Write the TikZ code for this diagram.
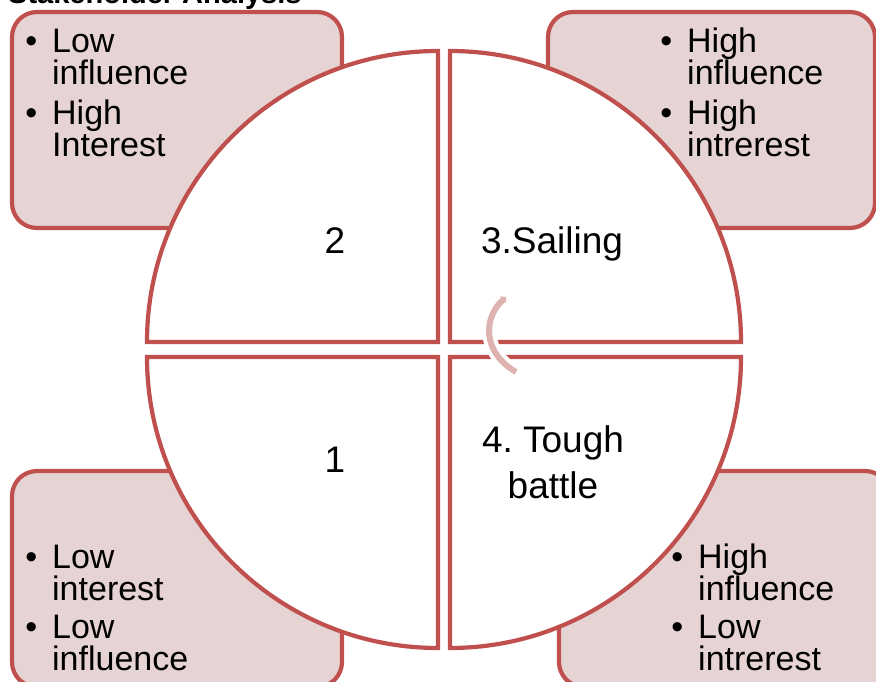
\documentclass[tikz,border=0pt]{standalone}
\usepackage{fontspec}
\setmainfont{Liberation Sans}
\usetikzlibrary{arrows.meta}
\definecolor{rline}{RGB}{192,80,77}
\definecolor{rfill}{RGB}{230,212,212}
\definecolor{rarc}{RGB}{222,178,177}
\lineskiplimit=-20pt
\frenchspacing
\newcommand{\bul}{\llap{\textbullet\hspace{15pt}}}
\begin{document}
\begin{tikzpicture}[x=1pt,y=1pt,
  box/.style={draw=rline, fill=rfill, line width=4.2pt, rounded corners=25pt},
  quad/.style={draw=rline, fill=white, line width=4.2pt},
  btext/.style={anchor=base west, align=left, inner sep=0pt, font=\fontsize{34}{32}\selectfont},
  qtext/.style={anchor=base, align=center, inner sep=0pt, font=\fontsize{37}{46}\selectfont},
  ttext/.style={anchor=base west, inner sep=0pt, font=\bfseries\fontsize{29}{32}\selectfont}]
\useasboundingbox (0,0) rectangle (876,-682);
\clip (0,0) rectangle (876,-682);
% title (cut at the top)
\node[ttext] (title) at (8,-4) {Stakeholder Analysis};
% corner boxes
\path[box] (12,-12) rectangle (342,-228);
\path[box] (548,-12) rectangle (875,-228);
\path[box] (12,-471) rectangle (342,-687);
\path[box] (559,-471) rectangle (890,-687);
% quadrants
\path[quad] (438,-342) -- (147,-342) arc[start angle=180,end angle=90,radius=291] -- cycle;
\path[quad] (450,-342) -- (450,-51) arc[start angle=90,end angle=0,radius=291] -- cycle;
\path[quad] (438,-357) -- (147,-357) arc[start angle=180,end angle=270,radius=291] -- cycle;
\path[quad] (450,-357) -- (741,-357) arc[start angle=0,end angle=-90,radius=291] -- cycle;
% centre arc
\draw[white, line width=14pt] (505,-298) .. controls (483,-318) and (482,-352) .. (516,-372);
\draw[rarc, line width=6pt, arrows={Triangle[length=4pt,width=9pt]-}] (506,-297) .. controls (483,-318) and (482,-352) .. (516,-372);
% quadrant labels (anchor = baseline of last line)
\node[qtext] (q2) at (335,-253) {2};
\node[qtext] (q3) at (552,-253) {3.Sailing};
\node[qtext] (q1) at (335,-472) {1};
\node[qtext] (q4) at (553,-498) {4. Tough\\battle};
% box texts (anchor = baseline of last line)
\node[btext] (t2) at (52,-157) {\bul Low\\influence\\[8pt]\bul High\\Interest};
\node[btext] (t3) at (687,-157) {\bul High\\influence\\[8pt]\bul High\\intrerest};
\node[btext] (t1) at (52,-670) {\bul Low\\interest\\[6pt]\bul Low\\influence};
\node[btext] (t4) at (698,-670) {\bul High\\influence\\[6pt]\bul Low\\intrerest};
\end{tikzpicture}
\end{document}
